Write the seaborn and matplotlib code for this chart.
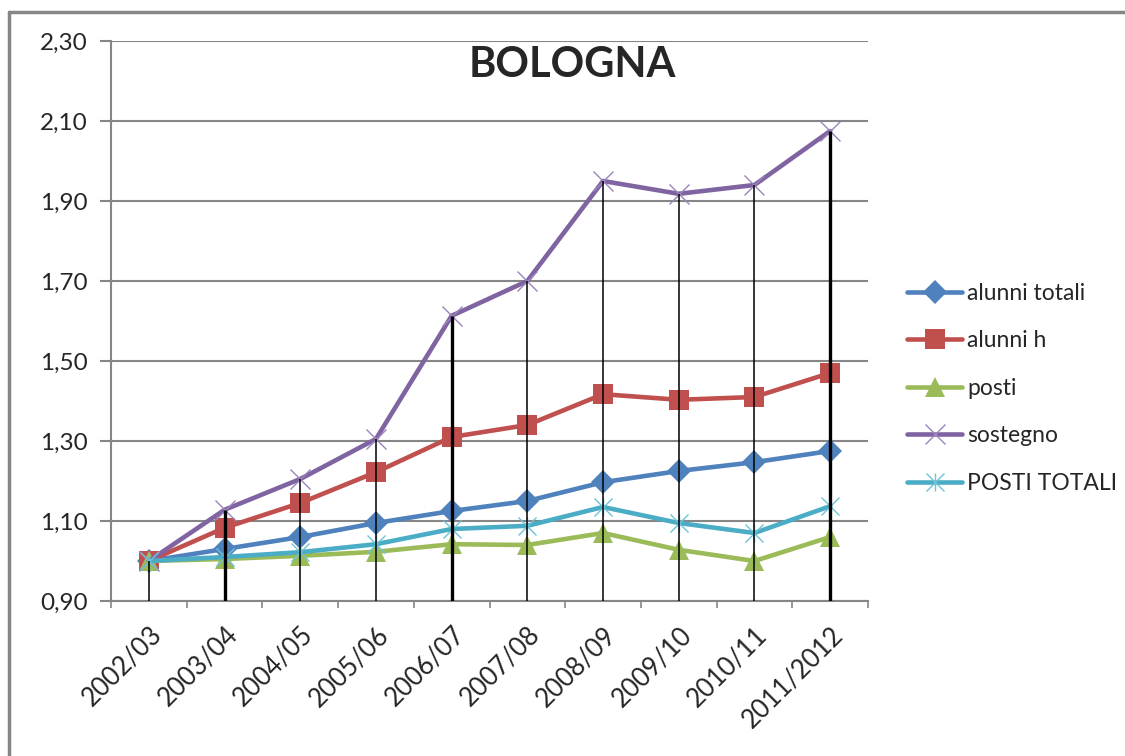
import numpy as np
import pandas as pd
import seaborn as sns
import matplotlib.pyplot as plt
from matplotlib.path import Path
from matplotlib.lines import Line2D

# dati (indice base 2002/03 = 1)
anni = ['2002/03', '2003/04', '2004/05', '2005/06', '2006/07',
        '2007/08', '2008/09', '2009/10', '2010/11', '2011/2012']
alunni_totali = [1.00, 1.03, 1.06, 1.095, 1.125, 1.15, 1.197, 1.225, 1.247, 1.275]
alunni_h = [1.00, 1.083, 1.145, 1.222, 1.31, 1.34, 1.417, 1.403, 1.41, 1.47]
posti = [1.00, 1.005, 1.013, 1.023, 1.042, 1.04, 1.07, 1.028, 1.00, 1.06]
sostegno = [1.00, 1.128, 1.205, 1.305, 1.613, 1.70, 1.95, 1.918, 1.94, 2.075]
posti_totali = [1.00, 1.01, 1.022, 1.042, 1.08, 1.088, 1.135, 1.095, 1.07, 1.137]

serie = ['alunni totali', 'alunni h', 'posti', 'sostegno', 'POSTI TOTALI']
valori = [alunni_totali, alunni_h, posti, sostegno, posti_totali]
colori = ['#4F81BD', '#C0504D', '#9BBB59', '#8064A2', '#4BACC6']

stella = Path([(-1, -1), (1, 1), (-1, 1), (1, -1), (0, -1), (0, 1)],
              [Path.MOVETO, Path.LINETO, Path.MOVETO, Path.LINETO, Path.MOVETO, Path.LINETO])
marker = ['D', 's', '^', 'x', stella]
msize = [12.5, 15, 15, 14, 13]
mew = [0, 0, 0, 1.0, 1.0]
mcol = ['#4F81BD', '#C0504D', '#9BBB59', '#9A85BD', '#6DC3DA']

df = pd.DataFrame({'anno': anni * len(serie),
                   'serie': np.repeat(serie, len(anni)),
                   'valore': np.concatenate(valori)})

sns.set_style('white')
plt.rcParams['font.family'] = ['Lato', 'DejaVu Sans']

fig = plt.figure(figsize=(11.25, 7.56), dpi=100)
ax = fig.add_axes([111/1125, 1 - 601/756, (868-111)/1125, (601-41)/756])

for i, s in enumerate(serie):
    sns.lineplot(data=df[df['serie'] == s], x='anno', y='valore', ax=ax,
                 color=colori[i], linewidth=3.3, marker=marker[i], markersize=msize[i],
                 markeredgewidth=mew[i], markeredgecolor=mcol[i], markerfacecolor=mcol[i],
                 label=s, zorder=3)

# linee di proiezione
massimi = np.max(np.array(valori), axis=0)
spessori = [1.1, 2.4, 1.1, 1.1, 2.4, 1.1, 1.1, 1.1, 1.1, 2.4]
ax.vlines(range(len(anni)), 0.9, massimi, color='black', linewidth=spessori, zorder=5)

ax.set_xlim(-0.5, len(anni) - 0.5)
ax.set_ylim(0.9, 2.3)
ax.set_yticks(np.arange(0.9, 2.31, 0.2))
ax.set_yticklabels([f'{v:.2f}'.replace('.', ',') for v in np.arange(0.9, 2.31, 0.2)], fontsize=17.5)
ax.yaxis.grid(True, color='#868686', linewidth=1.5)
ax.set_axisbelow(True)

ax.set_xticks(range(len(anni)))
ax.set_xticklabels(anni, rotation=45, ha='right', rotation_mode='anchor', fontsize=18.5)
ax.tick_params(axis='x', length=0, pad=15)
ax.tick_params(axis='y', length=8, width=1.5, color='#868686', pad=9, left=True)
ax.set_xticks(np.arange(-0.5, len(anni), 1), minor=True)
ax.tick_params(axis='x', which='minor', length=5, width=1.2, color='#868686', bottom=True)

for lato in ['top', 'right']:
    ax.spines[lato].set_visible(False)
for lato in ['left', 'bottom']:
    ax.spines[lato].set_color('#868686')
    ax.spines[lato].set_linewidth(1.5)

ax.set_xlabel('')
ax.set_ylabel('')
ax.text(0.61, 0.957, 'BOLOGNA', transform=ax.transAxes, fontsize=30,
        fontweight='bold', ha='center', va='center')

ax.legend(loc='center left', bbox_to_anchor=(1.040, 0.38), frameon=False, borderaxespad=0,
          fontsize=16.5, labelspacing=1.16, handlelength=2.4, handletextpad=0.2)

# cornice esterna
fig.add_artist(Line2D([9/1125, 1], [1 - 12/756, 1 - 12/756], color='#868686', linewidth=2.5))
fig.add_artist(Line2D([9/1125, 9/1125], [0, 1 - 12/756], color='#868686', linewidth=2.5))

plt.savefig('out.png', dpi=100)
